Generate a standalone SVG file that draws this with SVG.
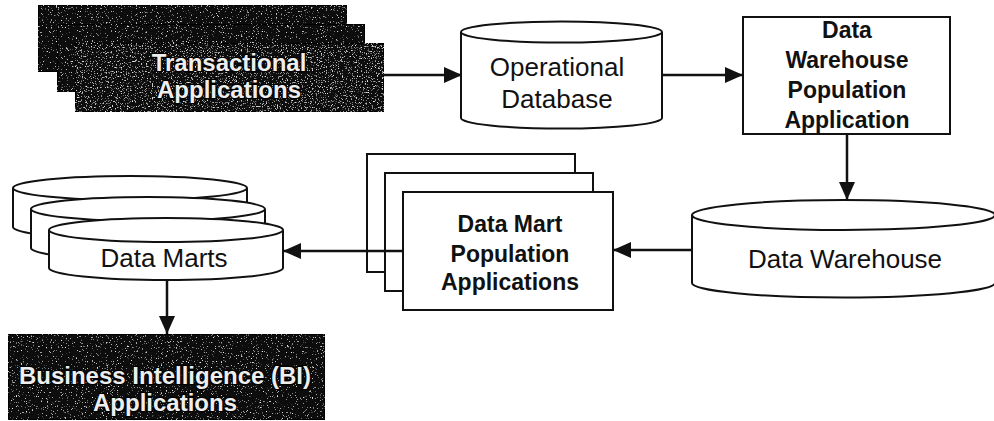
<svg xmlns="http://www.w3.org/2000/svg" width="994" height="421" viewBox="0 0 994 421">
<style>
.shape{fill:#fff;stroke:#111;stroke-width:2}
.dark{fill:#0c0c0c;stroke:#000;stroke-width:1.5}
.lbl{font-family:"Liberation Sans",Arial,sans-serif;font-size:26px;fill:#111;text-anchor:middle}
.blbl{font-family:"Liberation Sans",Arial,sans-serif;font-size:23px;font-weight:bold;fill:#111;text-anchor:middle}
.wlbl{font-family:"Liberation Sans",Arial,sans-serif;font-size:24px;font-weight:bold;fill:#eee;stroke:#000;stroke-width:2.5;paint-order:stroke;text-anchor:middle}
.conn{stroke:#111;stroke-width:2.5;fill:none;marker-end:url(#ah)}
</style>
<defs>
<marker id="ah" markerUnits="userSpaceOnUse" markerWidth="19" markerHeight="17" refX="18" refY="8" orient="auto">
<path d="M0,0 L18,8 L0,16 z" fill="#111"/>
</marker>
<filter id="speck" x="0" y="0" width="100%" height="100%">
<feTurbulence type="fractalNoise" baseFrequency="0.8" numOctaves="2" seed="7" result="n"/>
<feColorMatrix in="n" type="matrix" values="0 0 0 0 0.85 0 0 0 0 0.85 0 0 0 0 0.85 6 0 0 0 -3.9" result="w"/>
<feComposite in="w" in2="SourceGraphic" operator="in" result="wc"/>
<feMerge><feMergeNode in="SourceGraphic"/><feMergeNode in="wc"/></feMerge>
</filter>
<filter id="speck2" x="0" y="0" width="100%" height="100%">
<feTurbulence type="fractalNoise" baseFrequency="0.8" numOctaves="2" seed="11" result="n"/>
<feColorMatrix in="n" type="matrix" values="0 0 0 0 0.8 0 0 0 0 0.8 0 0 0 0 0.8 5 0 0 0 -3.0" result="w"/>
<feComposite in="w" in2="SourceGraphic" operator="in" result="wc"/>
<feMerge><feMergeNode in="SourceGraphic"/><feMergeNode in="wc"/></feMerge>
</filter>
</defs>

<g id="transactional-applications">
<rect class="dark" x="38" y="5" width="309" height="67" filter="url(#speck)"/>
<rect class="dark" x="57" y="24" width="308" height="68" filter="url(#speck)"/>
<rect class="dark" x="75" y="43" width="309" height="69" filter="url(#speck2)"/>
<text class="wlbl" x="229" y="71">Transactional</text>
<text class="wlbl" x="229" y="98">Applications</text>
</g>

<g id="operational-database">
<path class="shape" d="M461,32 L461,118 A100.5,10.5 0 0 0 662,118 L662,32"/>
<ellipse class="shape" cx="561.5" cy="32" rx="100.5" ry="10.5"/>
<text class="lbl" x="557" y="76">Operational</text>
<text class="lbl" x="557" y="108">Database</text>
</g>

<g id="dw-population-application">
<rect class="shape" x="743" y="17" width="207" height="117"/>
<text class="blbl" x="847" y="38">Data</text>
<text class="blbl" x="847" y="68">Warehouse</text>
<text class="blbl" x="847" y="98">Population</text>
<text class="blbl" x="847" y="128">Application</text>
</g>

<g id="data-warehouse">
<path class="shape" d="M692,215 L692,283 A151.5,14.5 0 0 0 995,283 L995,215"/>
<ellipse class="shape" cx="843.5" cy="215" rx="151.5" ry="15"/>
<text class="lbl" x="845" y="268">Data Warehouse</text>
</g>

<g id="data-mart-population-applications">
<rect class="shape" x="367" y="154" width="208" height="118"/>
<rect class="shape" x="385" y="173" width="208" height="118"/>
<rect class="shape" x="403" y="192" width="210" height="118"/>
<text class="blbl" x="510" y="232">Data Mart</text>
<text class="blbl" x="510" y="262">Population</text>
<text class="blbl" x="510" y="290">Applications</text>
</g>

<g id="data-marts">
<path class="shape" d="M13,188 L13,227 A117,12 0 0 0 247,227 L247,188"/>
<ellipse class="shape" cx="130" cy="188" rx="117" ry="12"/>
<path class="shape" d="M31,209 L31,248 A117,12 0 0 0 265,248 L265,209"/>
<ellipse class="shape" cx="148" cy="209" rx="117" ry="12"/>
<path class="shape" d="M49,230 L49,268 A117,12 0 0 0 283,268 L283,230"/>
<ellipse class="shape" cx="166" cy="230" rx="117" ry="12"/>
<text class="lbl" x="164" y="267">Data Marts</text>
</g>

<g id="bi-applications">
<rect class="dark" x="8" y="334" width="317" height="86" filter="url(#speck)"/>
<text class="wlbl" x="165" y="384">Business Intelligence (BI)</text>
<text class="wlbl" x="165" y="411">Applications</text>
</g>

<g id="connectors">
<line class="conn" x1="384" y1="75" x2="462" y2="75"/>
<line class="conn" x1="662" y1="75" x2="743" y2="75"/>
<line class="conn" x1="847" y1="134" x2="847" y2="200"/>
<line class="conn" x1="692" y1="250" x2="613" y2="250"/>
<line class="conn" x1="403" y1="251" x2="283" y2="251"/>
<line class="conn" x1="167" y1="280" x2="167" y2="334"/>
</g>
</svg>
